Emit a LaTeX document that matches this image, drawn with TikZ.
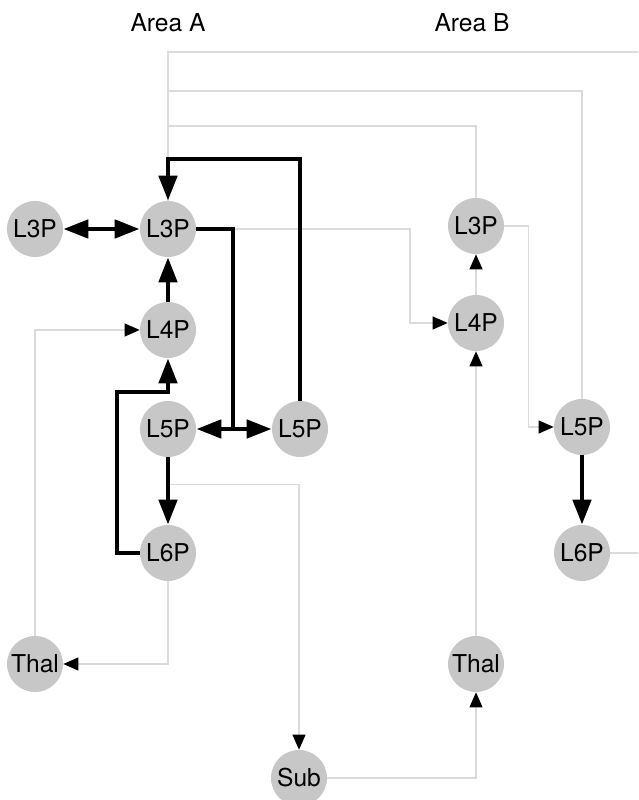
\documentclass[tikz,border=0pt]{standalone}
\usepackage{fontspec}
\setmainfont{TeX Gyre Heros}
\usepackage{tikz}
\usetikzlibrary{arrows.meta,calc}
\tikzstyle{cell} = [circle,fill=black!22,inner sep=0pt,minimum size=1.12cm,font=\fontsize{14}{16}\selectfont]
\tikzstyle{label} = [font=\fontsize{14}{16}\selectfont]
\tikzstyle{strong} = [line width=2.6pt,-{Triangle[length=0.5cm,width=0.36cm]}]
\tikzstyle{both} = [line width=2.6pt,{Triangle[length=0.5cm,width=0.36cm]}-{Triangle[length=0.5cm,width=0.36cm]}]
\tikzstyle{weak} = [line width=0.6pt,black!14,-{Triangle[length=0.3cm,width=0.26cm,black]}]
\tikzstyle{plain} = [line width=0.6pt,black!14]

\begin{document}
\begin{tikzpicture}
          \clip (0,0) rectangle (12.76,16);
          \fill[white] (0,0) rectangle (12.76,16);
          \node[label] at (3.36,15.54) (areaA) {Area A};
          \node[label] at (9.44,15.54) (areaB) {Area B};

          % area A
          \node[cell] at (0.70,11.42) (l3pX) {L3P};
          \node[cell] at (3.36,11.42) (l3pA) {L3P};
          \node[cell] at (3.36,9.40) (l4pA) {L4P};
          \node[cell] at (3.36,7.42) (l5pA) {L5P};
          \node[cell] at (6.00,7.42) (l5pX) {L5P};
          \node[cell] at (3.36,4.94) (l6pA) {L6P};
          \node[cell] at (0.70,2.72) (thalA) {Thal};
          \node[cell] at (5.98,0.44) (sub) {Sub};

          % area B
          \node[cell] at (9.52,11.48) (l3pB) {L3P};
          \node[cell] at (9.52,9.54) (l4pB) {L4P};
          \node[cell] at (11.64,7.46) (l5pB) {L5P};
          \node[cell] at (11.64,4.94) (l6pB) {L6P};
          \node[cell] at (9.52,2.72) (thalB) {Thal};

          \coordinate (split) at (4.66,7.42);
          \coordinate (tap) at ($(l5pA.south)!0.4!(l6pA.north)$);

          % thin connections
          \draw[plain] (l6pB.east) -- (13.2,4.94) |- (3.36,14.96) -- (l3pA.north);
          \draw[plain] (l5pB.north) |- (3.36,14.18) -- (l3pA.north);
          \draw[plain] (l3pB.north) |- (3.36,13.48) -- (l3pA.north);
          \draw[weak] (l3pA.east) -| (8.2,9.54) -- (l4pB.west);
          \draw[weak] (thalA.north) |- (l4pA.west);
          \draw[weak] (l6pA.south) |- (thalA.east);
          \draw[weak] (tap) -| (sub.north);
          \draw[weak] (sub.east) -| (thalB.south);
          \draw[weak] (thalB) -- (l4pB);
          \draw[weak] (l4pB) -- (l3pB);
          \draw[weak] (l3pB.east) -- ++(0.48,0) |- (l5pB.west);

          % thick connections
          \draw[both] (l3pX) -- (l3pA);
          \draw[strong] (l4pA) -- (l3pA);
          \draw[strong] (l5pA) -- (l6pA);
          \draw[strong] (l6pA.west) -- (2.34,4.94) |- (3.36,8.16) -- (l4pA.south);
          \draw[strong] (l3pA.east) -| (split) -- (l5pA.east);
          \draw[strong] (split) -- (l5pX.west);
          \draw[strong] (l5pX.north) |- (3.36,12.82) -- (l3pA.north);
          \draw[strong] (l5pB) -- (l6pB);
        \end{tikzpicture}
\end{document}
